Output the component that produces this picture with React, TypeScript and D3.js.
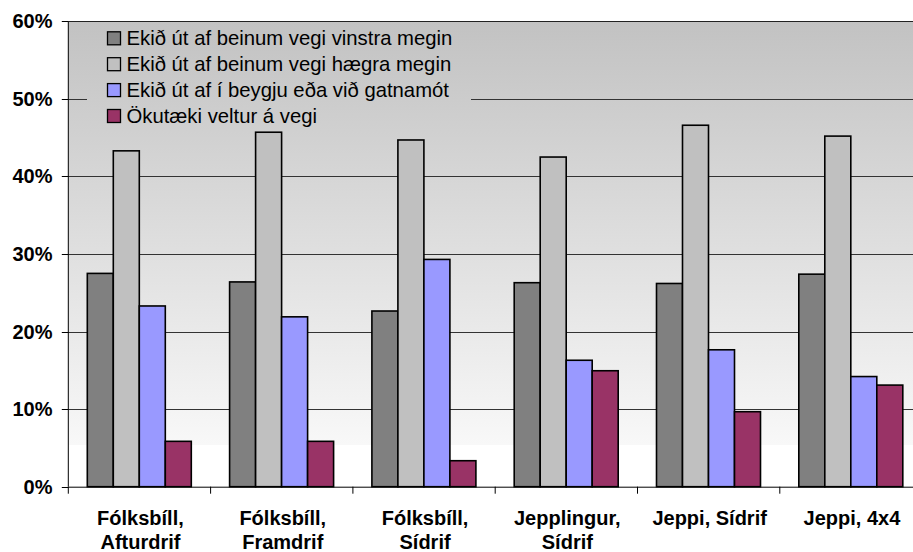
import React from "react";
import * as d3 from "d3";

const categories = [
  ["Fólksbíll,", "Afturdrif"],
  ["Fólksbíll,", "Framdrif"],
  ["Fólksbíll,", "Sídrif"],
  ["Jepplingur,", "Sídrif"],
  ["Jeppi, Sídrif"],
  ["Jeppi, 4x4"],
];
const seriesNames = [
  "Ekið út af beinum vegi vinstra megin",
  "Ekið út af beinum vegi hægra megin",
  "Ekið út af í beygju eða við gatnamót",
  "Ökutæki veltur á vegi",
];
const seriesColors = ["#808080", "#c0c0c0", "#9999ff", "#993366"];
const vinstra = [27.5, 26.4, 22.65, 26.3, 26.2, 27.4];
const haegra = [43.3, 45.7, 44.7, 42.5, 46.6, 45.2];
const beygju = [23.3, 21.9, 29.3, 16.3, 17.65, 14.2];
const veltur = [5.85, 5.85, 3.35, 14.95, 9.67, 13.1];
const seriesValues = [vinstra, haegra, beygju, veltur];
const yTicks = [0, 10, 20, 30, 40, 50, 60];

export default function App() {
  const W = 913, H = 552;
  const left = 68.3, top = 21.3, bottom = 486.7;
  const catW = 142.3;
  const right = left + catW * categories.length;
  const x = d3.scaleBand<number>().domain(d3.range(categories.length)).range([left, right]).paddingInner(0).paddingOuter(0);
  const y = d3.scaleLinear().domain([0, 60]).range([bottom, top]);
  const inner = d3.scaleBand<number>().domain(d3.range(4)).range([19, catW - 19.3]);
  const font = "Arial, 'Liberation Sans', sans-serif";
  const legX = 87, legY = 25, legW = 384, legH = 104;
  return (
    <svg width={W} height={H} style={{ position: "absolute", left: 0, top: 0, display: "block" }} fontFamily={font}>
      <defs>
        <linearGradient id="bg" gradientUnits="userSpaceOnUse" x1="0" y1={top} x2="0" y2={bottom}>
          <stop offset="0" stopColor="#c2c2c2" />
          <stop offset="0.91" stopColor="#f8f8f8" />
          <stop offset="0.91" stopColor="#ffffff" />
          <stop offset="1" stopColor="#ffffff" />
        </linearGradient>
      </defs>
      <rect x={0} y={0} width={W} height={H} fill="#ffffff" />
      <rect x={left} y={top} width={right - left} height={bottom - top} fill="url(#bg)" />
      {yTicks.filter(t => t > 0).map(t => (
        <line key={"g" + t} x1={left} x2={right} y1={Math.round(y(t)) + 0.5} y2={Math.round(y(t)) + 0.5} stroke={t === 60 ? "#222" : "#333"} strokeWidth={1} />
      ))}
      {seriesValues.map((vals, si) =>
        vals.map((v, ci) => (
          <rect key={si + "-" + ci} x={(x(ci) as number) + (inner(si) as number)} y={y(v)} width={inner.bandwidth()} height={bottom - y(v)}
            fill={seriesColors[si]} stroke="#000" strokeWidth={1.6} />
        ))
      )}
      <rect x={legX} y={legY} width={legW} height={legH} fill="url(#bg)" />
      {seriesNames.map((n, i) => (
        <g key={n} transform={`translate(107.5, ${38.3 + i * 25.9})`}>
          <rect x={0} y={-6.5} width={13} height={13} fill={seriesColors[i]} stroke="#000" strokeWidth={1.3} />
          <text x={19} y={7} fontSize={20.3} fill="#000">{n}</text>
        </g>
      ))}
      <line x1={left} x2={left} y1={top} y2={bottom} stroke="#000" strokeWidth={1} />
      <line x1={left} x2={right} y1={bottom + 0.5} y2={bottom + 0.5} stroke="#000" strokeWidth={1} />
      {yTicks.map(t => (
        <g key={"t" + t}>
          <line x1={left - 6.5} x2={left} y1={Math.round(y(t)) + 0.5} y2={Math.round(y(t)) + 0.5} stroke="#000" />
          <text x={52.5} y={y(t) + 7} textAnchor="end" fontSize={20} fontWeight="bold" fill="#000">{t}%</text>
        </g>
      ))}
      {d3.range(categories.length + 1).map(i => (
        <line key={"ct" + i} x1={left + i * catW} x2={left + i * catW} y1={bottom} y2={bottom + 7} stroke="#000" />
      ))}
      {categories.map((lines, ci) => (
        <text key={"c" + ci} x={(x(ci) as number) + catW / 2 + 1} y={525} textAnchor="middle" fontSize={20} fontWeight="bold" fill="#000">
          {lines.map((l, li) => (
            <tspan key={li} x={(x(ci) as number) + catW / 2 + 1} dy={li === 0 ? 0 : 24}>{l}</tspan>
          ))}
        </text>
      ))}
    </svg>
  );
}
